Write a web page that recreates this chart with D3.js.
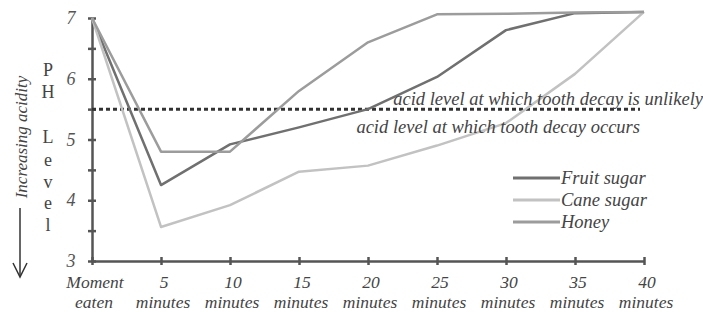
<!DOCTYPE html>
<html><head><meta charset="utf-8">
<script src="https://cdn.jsdelivr.net/npm/d3@7"></script>
<style>body{margin:0;background:#fff}svg{display:block}</style>
</head><body>
<svg id="c" width="703" height="312"></svg>
<script>
const categories = ["Moment|eaten","5|minutes","10|minutes","15|minutes","20|minutes","25|minutes","30|minutes","35|minutes","40|minutes"];
const fruitSugar = [7, 4.25, 4.92, 5.2, 5.5, 6.03, 6.8, 7.08, 7.1];
const caneSugar  = [7, 3.56, 3.92, 4.47, 4.57, 4.9, 5.27, 6.08, 7.1];
const honey      = [7, 4.8, 4.8, 5.8, 6.6, 7.06, 7.07, 7.09, 7.1];
const yTicks = [3, 4, 5, 6, 7];
const threshold = 5.5;
const seriesNames = ["Fruit sugar", "Cane sugar", "Honey"];
const seriesColors = ["#707070", "#c2c2c2", "#9c9c9c"];

const F = "Liberation Serif";
const svg = d3.select("#c");
const x = d3.scalePoint().domain(categories).range([92, 644]);
const y = d3.scaleLinear().domain([3, 7]).range([261, 18]);

// y axis
const yAxis = svg.append("g").attr("transform", "translate(92,0)")
  .call(d3.axisLeft(y).tickValues(d3.range(3, 7.01, 0.5)).tickSize(0).tickFormat(""));
yAxis.select(".domain").attr("stroke", "#555").attr("stroke-width", 2.5);
yAxis.selectAll(".tick line").attr("x1", -4).attr("x2", 4).attr("stroke", "#555").attr("stroke-width", 2.5);
svg.append("g").selectAll("text").data(yTicks).join("text")
  .attr("x", 71).attr("y", d => y(d) + 6).attr("text-anchor", "middle")
  .attr("font-family", F).attr("font-style", "italic").attr("font-size", 18).attr("fill", "#555")
  .text(d => d);

// x axis
const xAxis = svg.append("g").attr("transform", "translate(0,261)")
  .call(d3.axisBottom(x).tickSize(0).tickFormat(""));
xAxis.select(".domain").attr("stroke", "#555").attr("stroke-width", 2.5);
xAxis.selectAll(".tick line").attr("y1", -4).attr("y2", 4).attr("stroke", "#555").attr("stroke-width", 2.5);
const xg = svg.append("g").attr("font-family", F).attr("font-style", "italic").attr("font-size", 17.5).attr("fill", "#444");
xg.selectAll("text.l1").data(categories).join("text").attr("class", "l1")
  .attr("text-anchor", "middle").attr("x", d => x(d) + 3).attr("y", 288).text(d => d.split("|")[0]);
xg.selectAll("text.l2").data(categories).join("text").attr("class", "l2")
  .attr("text-anchor", "middle").attr("x", d => x(d) + 2).attr("y", 308).text(d => d.split("|")[1]);

// threshold
svg.append("line").attr("x1", 92).attr("x2", 640).attr("y1", y(threshold)).attr("y2", y(threshold))
  .attr("stroke", "#333").attr("stroke-width", 3).attr("stroke-dasharray", "4,3");

// lines
const line = d3.line().x((d, i) => x(categories[i])).y(d => y(d));
[fruitSugar, caneSugar, honey].forEach((s, k) => {
  svg.append("path").datum(s).attr("d", line).attr("fill", "none")
    .attr("stroke", seriesColors[k]).attr("stroke-width", 2.5).attr("stroke-linejoin", "round");
});

// annotations
svg.append("text").attr("x", 703).attr("y", 105).attr("text-anchor", "end")
  .attr("font-family", F).attr("font-style", "italic").attr("font-size", 18.5).attr("fill", "#444")
  .text("acid level at which tooth decay is unlikely");
svg.append("text").attr("x", 640).attr("y", 133).attr("text-anchor", "end")
  .attr("font-family", F).attr("font-style", "italic").attr("font-size", 18.5).attr("fill", "#444")
  .text("acid level at which tooth decay occurs");

// legend
const lg = svg.append("g");
seriesNames.forEach((n, k) => {
  const yy = 178 + k * 22;
  lg.append("line").attr("x1", 513).attr("x2", 560).attr("y1", yy).attr("y2", yy)
    .attr("stroke", seriesColors[k]).attr("stroke-width", 3);
  lg.append("text").attr("x", 561).attr("y", yy + 6)
    .attr("font-family", F).attr("font-style", "italic").attr("font-size", 18.5).attr("fill", "#444").text(n);
});

// y label stacked letters
const letters = [["P",70],["H",92],["L",137],["e",160],["v",182],["e",203],["l",225]];
svg.append("g").selectAll("text").data(letters).join("text")
  .attr("x", 48).attr("y", d => d[1] + 6).attr("text-anchor", "middle")
  .attr("font-family", F).attr("font-size", 18).attr("fill", "#444").text(d => d[0]);

// increasing acidity
svg.append("text").attr("transform", "translate(27,137) rotate(-90)").attr("text-anchor", "middle")
  .attr("font-family", F).attr("font-style", "italic").attr("font-size", 17).attr("fill", "#444")
  .text("Increasing acidity");
svg.append("line").attr("x1", 20).attr("x2", 20).attr("y1", 208).attr("y2", 276)
  .attr("stroke", "#333").attr("stroke-width", 1.5);
svg.append("path").attr("d", "M13,263 L20,277 L27,263").attr("fill", "none").attr("stroke", "#333").attr("stroke-width", 1.5);
</script>
</body></html>
